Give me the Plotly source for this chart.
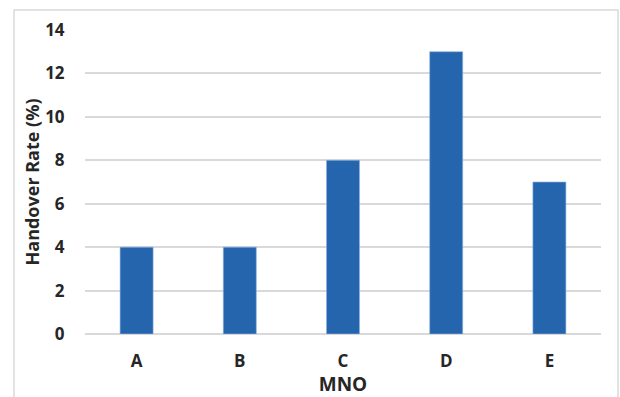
import plotly.graph_objects as go

# Handover rate per mobile network operator
operators = ["A", "B", "C", "D", "E"]
handover_rate = [4, 4, 8, 13, 7]
y_ticks = [0, 2, 4, 6, 8, 10, 12, 14]

BAR = "#2565AE"
GRID = "#D9D9D9"
TEXT = "#262626"
FONT = "Open Sans"

fig = go.Figure(
    go.Bar(
        x=operators,
        y=handover_rate,
        marker=dict(color=BAR, line=dict(color="#8FB4E3", width=0.6)),
        width=0.32,
    )
)

fig.update_layout(
    width=620,
    height=397,
    margin=dict(l=85, r=19, t=30, b=63),
    paper_bgcolor="white",
    plot_bgcolor="white",
    showlegend=False,
    font=dict(family=FONT, color=TEXT),
    shapes=[
        dict(
            type="rect",
            xref="paper",
            yref="paper",
            x0=-0.1376,
            x1=1.033,
            y0=-0.25,
            y1=1.0658,
            line=dict(color=GRID, width=1.5),
            fillcolor="rgba(0,0,0,0)",
            layer="below",
        )
    ],
)

fig.update_xaxes(
    automargin=False,
    showgrid=False,
    showline=False,
    ticks="outside",
    ticklen=12,
    tickcolor="rgba(0,0,0,0)",
    tickfont=dict(size=17, family=FONT, color=TEXT, weight="bold"),
    title=dict(
        text="MNO",
        font=dict(size=19, family=FONT, color=TEXT, weight="bold"),
        standoff=3,
    ),
)

fig.update_yaxes(
    automargin=False,
    range=[0, 14],
    tickvals=y_ticks,
    showgrid=True,
    gridcolor=GRID,
    gridwidth=1.5,
    zeroline=True,
    zerolinecolor=GRID,
    zerolinewidth=1.5,
    showline=False,
    ticks="outside",
    ticklen=16,
    tickcolor="rgba(0,0,0,0)",
    tickfont=dict(size=17, family=FONT, color=TEXT, weight="bold"),
    title=dict(
        text="Handover Rate (%)",
        font=dict(size=18, family=FONT, color=TEXT, weight="bold"),
        standoff=0,
    ),
)

fig.write_html("out.html")
